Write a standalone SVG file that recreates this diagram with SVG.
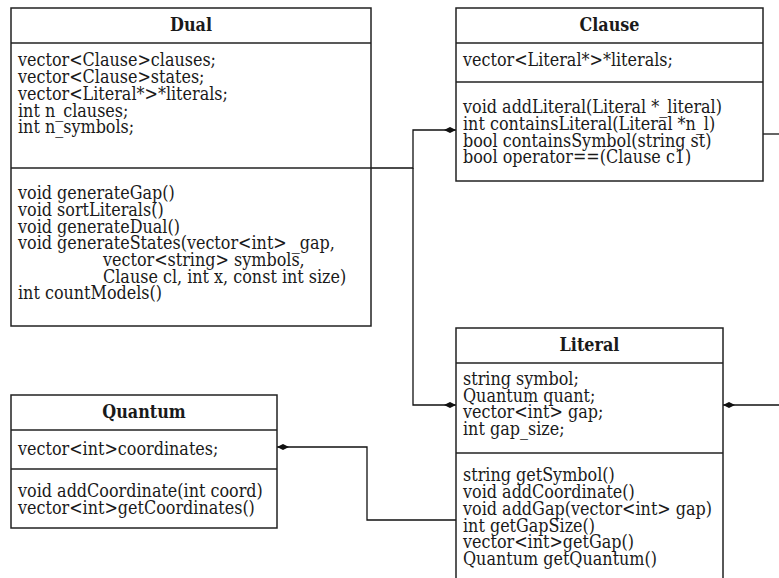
<svg xmlns="http://www.w3.org/2000/svg" width="779" height="578" viewBox="0 0 779 578">
  <style>
    .box { fill: #ffffff; stroke: #222222; stroke-width: 1.5; }
    .sep { stroke: #222222; stroke-width: 1.5; }
    .t { font-family: "DejaVu Serif Condensed", "DejaVu Serif", serif; font-stretch: condensed; font-size: 17.8px; fill: #1a1a1a; }
    .h { font-weight: bold; text-anchor: middle; }
    .c { fill: none; stroke: #111111; stroke-width: 1.3; }
  </style>
  <defs>
    <!-- filled diamond used for composition ends -->
    <marker id="diamond" viewBox="0 0 12 6" refX="12" refY="3" markerWidth="12" markerHeight="6" markerUnits="userSpaceOnUse" orient="auto-start-reverse">
      <path d="M0,3 L6,0 L12,3 L6,6 Z" fill="#111111"/>
    </marker>
  </defs>
  <rect width="779" height="578" fill="#ffffff"/>

  <g id="connectors">
    <path class="c" d="M371,168 H413 V130 H456" marker-end="url(#diamond)"/>
    <path class="c" d="M413,168 V405 H456" marker-end="url(#diamond)"/>
    <path class="c" d="M763,134 H779"/>
    <path class="c" d="M723,405 H779" marker-start="url(#diamond)"/>
    <path class="c" d="M456,520 H367 V447 H277" marker-end="url(#diamond)"/>
  </g>

  <g id="Dual">
    <rect class="box" x="11" y="8" width="360" height="318"/>
    <line class="sep" x1="11" y1="43" x2="371" y2="43"/>
    <line class="sep" x1="11" y1="168" x2="371" y2="168"/>
    <text class="t h" x="191" y="31">Dual</text>
    <text class="t" x="18" y="66">vector&lt;Clause&gt;clauses;</text>
    <text class="t" x="18" y="83">vector&lt;Clause&gt;states;</text>
    <text class="t" x="18" y="100">vector&lt;Literal*&gt;*literals;</text>
    <text class="t" x="18" y="117">int n_clauses;</text>
    <text class="t" x="18" y="133">int n_symbols;</text>
    <text class="t" x="18" y="199">void generateGap()</text>
    <text class="t" x="18" y="216">void sortLiterals()</text>
    <text class="t" x="18" y="233">void generateDual()</text>
    <text class="t" x="18" y="249">void generateStates(vector&lt;int&gt; _gap,</text>
    <text class="t" x="103" y="266">vector&lt;string&gt; symbols,</text>
    <text class="t" x="103" y="283">Clause cl, int x, const int size)</text>
    <text class="t" x="18" y="299">int countModels()</text>
  </g>

  <g id="Clause">
    <rect class="box" x="456" y="8" width="307" height="173"/>
    <line class="sep" x1="456" y1="43" x2="763" y2="43"/>
    <line class="sep" x1="456" y1="82" x2="763" y2="82"/>
    <text class="t h" x="609.5" y="31">Clause</text>
    <text class="t" x="463" y="66">vector&lt;Literal*&gt;*literals;</text>
    <text class="t" x="463" y="113">void addLiteral(Literal *_literal)</text>
    <text class="t" x="463" y="130">int containsLiteral(Literal *n_l)</text>
    <text class="t" x="463" y="147">bool containsSymbol(string st)</text>
    <text class="t" x="463" y="163">bool operator==(Clause c1)</text>
  </g>

  <g id="Literal">
    <rect class="box" x="456" y="328" width="267" height="270"/>
    <line class="sep" x1="456" y1="363" x2="723" y2="363"/>
    <line class="sep" x1="456" y1="453" x2="723" y2="453"/>
    <text class="t h" x="589.5" y="351">Literal</text>
    <text class="t" x="463" y="385">string symbol;</text>
    <text class="t" x="463" y="402">Quantum quant;</text>
    <text class="t" x="463" y="418">vector&lt;int&gt; gap;</text>
    <text class="t" x="463" y="435">int gap_size;</text>
    <text class="t" x="463" y="481">string getSymbol()</text>
    <text class="t" x="463" y="498">void addCoordinate()</text>
    <text class="t" x="463" y="515">void addGap(vector&lt;int&gt; gap)</text>
    <text class="t" x="463" y="532">int getGapSize()</text>
    <text class="t" x="463" y="548">vector&lt;int&gt;getGap()</text>
    <text class="t" x="463" y="565">Quantum getQuantum()</text>
  </g>

  <g id="Quantum">
    <rect class="box" x="11" y="395" width="266" height="133"/>
    <line class="sep" x1="11" y1="430" x2="277" y2="430"/>
    <line class="sep" x1="11" y1="469" x2="277" y2="469"/>
    <text class="t h" x="144" y="418">Quantum</text>
    <text class="t" x="18" y="455">vector&lt;int&gt;coordinates;</text>
    <text class="t" x="18" y="497">void addCoordinate(int coord)</text>
    <text class="t" x="18" y="514">vector&lt;int&gt;getCoordinates()</text>
  </g>
</svg>
